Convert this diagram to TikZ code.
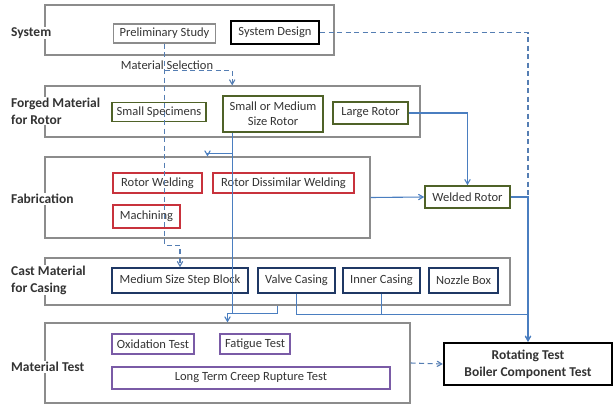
\documentclass[tikz,border=0pt]{standalone}
\usepackage{fontspec}
\setmainfont{Carlito}
\usepackage{tikz}
\usetikzlibrary{arrows,calc}
\definecolor{rotorgreen}{HTML}{4F6228}
\definecolor{fabred}{HTML}{C8323C}
\definecolor{castnavy}{HTML}{1F3864}
\definecolor{testpurple}{HTML}{7A5BA6}
\definecolor{flowblue}{HTML}{4A7EC0}
\definecolor{boxgray}{HTML}{8C8C8C}
\definecolor{txtgray}{HTML}{333333}
\tikzset{
  >=angle 60,
  group/.style={draw=boxgray,line width=1.1pt,inner sep=0pt},
  grouplabel/.style={fill=white,anchor=west,align=left,inner sep=1pt,text=txtgray,
    font=\bfseries\fontsize{13.5}{17}\selectfont},
  item/.style={draw,line width=1.6pt,inner sep=0pt,align=center,text=txtgray,
    font=\fontsize{12.5}{15}\selectfont},
  rotoritem/.style={item,draw=rotorgreen},
  fabitem/.style={item,draw=fabred},
  castitem/.style={item,draw=castnavy},
  testitem/.style={item,draw=testpurple},
  flow/.style={draw=flowblue,line width=1.1pt},
  plan/.style={draw=flowblue!80!gray,line width=1.1pt,dash pattern=on 5pt off 3.5pt}
}
\begin{document}
\begin{tikzpicture}[x=1pt,y=-1pt]
      \useasboundingbox (0,0) rectangle (614,407); % page frame
      % stage frames
      \node[group,minimum width=289,minimum height=50] (sysbox) at (189.5,30) {}; % system
      \node[group,minimum width=375,minimum height=51] (forgedbox) at (232.5,111.5) {}; % forged
      \node[group,minimum width=325,minimum height=81] (fabbox) at (207.5,197.5) {}; % fabrication
      \node[group,minimum width=465,minimum height=47] (castbox) at (277.5,281.5) {}; % cast
      \node[group,minimum width=365,minimum height=80] (testbox) at (227.5,363) {}; % material test
      % stage labels
      \node[grouplabel] (syslbl) at (10,33) {System};
      \node[grouplabel] (forgedlbl) at (10,111) {Forged Material\\for Rotor};
      \node[grouplabel] (fablbl) at (10,199) {Fabrication};
      \node[grouplabel] (castlbl) at (10,280) {Cast Material\\for Casing};
      \node[grouplabel] (testlbl) at (10,367) {Material Test};
      % system
      \node[item,draw=boxgray,line width=1.3pt,minimum width=102,minimum height=19] (prelim) at (164.5,33.5) {Preliminary Study};
      \node[item,draw=black,line width=2.4pt,minimum width=88,minimum height=23] (sysdes) at (275,32.5) {System Design};
      \node[text=txtgray,font=\fontsize{12.5}{15}\selectfont] (matsel) at (167,65) {Material Selection}; % selection label
      % forged material
      \node[rotoritem,minimum width=94,minimum height=19] (smallspec) at (159,112) {Small Specimens};
      \node[rotoritem,minimum width=100,minimum height=36] (smr) at (273,114) {Small or Medium\\Size Rotor};
      \node[rotoritem,minimum width=75,minimum height=22] (large) at (370.5,113) {Large Rotor};
      \node[rotoritem,minimum width=85,minimum height=22] (welded) at (467.5,197) {Welded Rotor};
      % fabrication
      \node[fabitem,minimum width=89,minimum height=20] (rweld) at (157.5,183) {Rotor Welding};
      \node[fabitem,minimum width=141,minimum height=20] (rdis) at (283.5,183) {Rotor Dissimilar Welding};
      \node[fabitem,minimum width=67,minimum height=23] (mach) at (146.5,216.5) {Machining};
      % cast material
      \node[castitem,minimum width=136,minimum height=25] (stepblk) at (180,280.5) {Medium Size Step Block};
      \node[castitem,minimum width=77,minimum height=25] (valve) at (296.5,280.5) {Valve Casing};
      \node[castitem,minimum width=77,minimum height=25] (inner) at (381.5,280.5) {Inner Casing};
      \node[castitem,minimum width=69,minimum height=25] (nozzle) at (463.5,280.5) {Nozzle Box};
      % material test
      \node[testitem,minimum width=82,minimum height=20] (oxid) at (153,344) {Oxidation Test};
      \node[testitem,minimum width=70,minimum height=20] (fatigue) at (255,344) {Fatigue Test};
      \node[testitem,minimum width=278,minimum height=22] (creep) at (251,378) {Long Term Creep Rupture Test};
      \node[item,draw=black,line width=2.4pt,minimum width=168,minimum height=42,
            font=\bfseries\fontsize{13.5}{17}\selectfont] (rot) at (528,364) {Rotating Test\\Boiler Component Test};
      \coordinate (smrfoot) at ($(smr.south west)+(10,0)$); % rotor feed point
      % planning lines
      \draw[plan,->] (prelim.south) -- ++(0,202) -| (stepblk.north); % selection to casting
      \draw[plan,->] ($(prelim.south)+(0,27)$) -| (smrfoot |- forgedbox.north); % selection to forging
      \draw[plan] (sysdes.east) -| (rot.north); % design to test
      \draw[plan,->] (testbox.east) -- (rot.west); % material to component test
      % rotor flow
      \draw[flow,->] (large.east) -| (welded.north); % large rotor
      \draw[flow,->] (fabbox.east) -- (welded.west); % fabrication out
      \draw[flow,->] (welded.east) -| (rot.north); % welded rotor
      \draw[flow] (smrfoot) -- ++(0,181); % rotor down
      \draw[flow,->] ($(smrfoot)+(0,21)$) -| (fabbox.north); % rotor to fabrication
      \draw[flow,->] (castbox.south) -- ++(0,8) -| (testbox.north); % casting to tests
      \draw[flow,->] (valve.south) -- ++(0,21) -| (rot.north); % valve casing
      \draw[flow] (inner.south) -- ++(0,21); % inner casing
    \end{tikzpicture}
\end{document}
